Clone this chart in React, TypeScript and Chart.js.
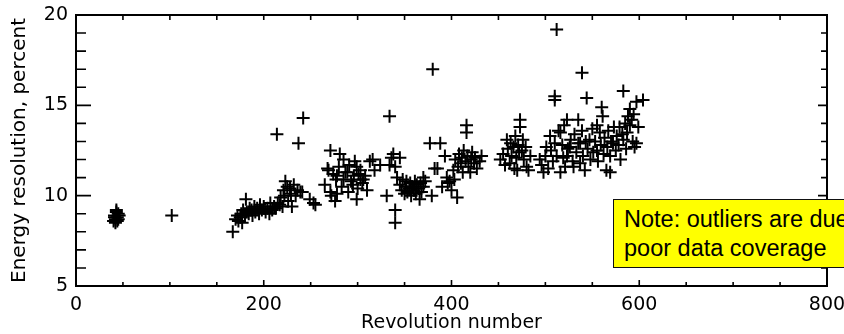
import React, { useEffect, useRef } from 'react';
import { Chart, registerables } from 'chart.js';

Chart.register(...registerables);

// Revolution number / energy resolution (percent), grouped by the visible clusters
const groupEarly: [number, number][] = [
  [40, 8.6], [41, 8.9], [42, 8.7], [43, 9.1], [44, 8.8], [45, 9.0], [42, 8.5], [46, 8.9],
  [43, 9.2], [44, 8.6], [41, 8.8], [45, 8.7], [102, 8.9],
];

const group170: [number, number][] = [
  [167, 8.0], [170, 8.7], [172, 8.9], [173, 8.6], [175, 8.8], [176, 9.0], [177, 8.5], [178, 9.2],
  [180, 8.9], [181, 9.8], [182, 9.1], [184, 9.0], [185, 9.3], [187, 9.2], [188, 8.9], [190, 9.4],
  [191, 9.1], [193, 9.3], [195, 9.0], [196, 9.5], [198, 9.2], [200, 9.4], [202, 9.1], [204, 9.3],
  [206, 9.0], [207, 9.6], [209, 9.2], [211, 9.4], [213, 9.3], [215, 9.6], [217, 9.5], [218, 9.9],
  [220, 9.4], [221, 10.3], [222, 10.0], [223, 10.8], [225, 10.5], [226, 9.7], [228, 10.4],
  [229, 10.1], [230, 9.4], [232, 10.6], [234, 10.0], [236, 10.3], [239, 10.2], [241, 10.2],
  [249, 9.8], [253, 9.6], [255, 9.5], [214, 13.4], [237, 12.9], [242, 14.3],
];

const group280: [number, number][] = [
  [265, 10.6], [268, 11.5], [269, 11.4], [271, 12.5], [271, 10.2], [272, 10.0], [274, 11.2],
  [276, 9.7], [277, 10.9], [278, 11.1], [278, 10.1], [280, 11.6], [281, 12.3], [283, 10.5],
  [285, 12.0], [285, 10.9], [287, 11.3], [289, 11.3], [290, 10.2], [291, 11.7], [293, 10.8],
  [295, 10.6], [296, 11.1], [297, 11.9], [299, 11.6], [299, 9.8], [300, 10.4], [301, 11.2],
  [303, 10.9], [303, 11.4], [305, 10.7], [306, 10.9], [308, 11.1], [310, 10.3], [313, 11.9],
  [316, 12.0], [318, 11.4], [324, 11.7],
];

const group350: [number, number][] = [
  [331, 10.0], [334, 11.7], [334, 14.4], [336, 12.1], [338, 12.3], [340, 11.6], [340, 9.2],
  [340, 8.5], [342, 11.0], [345, 12.1], [345, 10.6], [347, 10.3], [348, 10.9], [350, 10.1],
  [351, 10.5], [352, 10.8], [353, 10.2], [355, 10.4], [356, 10.7], [357, 10.0], [358, 10.5],
  [360, 10.3], [361, 10.8], [362, 10.1], [363, 10.6], [365, 10.4], [366, 9.8], [367, 10.7],
  [368, 10.2], [370, 11.0], [370, 10.5], [372, 10.8],
];

const group400: [number, number][] = [
  [377, 12.9], [379, 10.0], [380, 17.0], [382, 11.5], [385, 11.5], [388, 12.9], [390, 10.5],
  [393, 12.2], [395, 11.0], [396, 10.7], [398, 10.8], [400, 10.3], [402, 11.4], [403, 10.9],
  [404, 12.0], [406, 9.9], [407, 11.6], [408, 12.3], [410, 11.8], [411, 12.1], [412, 11.3],
  [413, 12.5], [415, 11.9], [416, 13.9], [416, 13.5], [417, 12.2], [418, 11.6], [420, 11.3],
  [421, 12.0], [422, 12.4], [424, 11.8], [425, 12.1], [427, 11.5], [430, 11.9], [432, 12.2],
];

const group470: [number, number][] = [
  [452, 12.0], [455, 12.3], [457, 11.7], [459, 13.1], [460, 12.6], [462, 11.8], [463, 12.9],
  [464, 12.2], [466, 12.7], [467, 11.5], [468, 13.3], [469, 12.1], [470, 11.4], [471, 12.8],
  [472, 12.4], [473, 14.2], [473, 13.8], [475, 12.5], [476, 13.1], [477, 12.0], [479, 12.7],
  [480, 11.6], [482, 11.4], [484, 12.2],
];

const group550: [number, number][] = [
  [494, 12.0], [496, 11.7], [498, 11.3], [500, 12.2], [501, 12.7], [503, 11.5], [505, 13.3],
  [506, 12.5], [508, 11.9], [510, 15.5], [510, 15.3], [510, 12.9], [512, 19.2], [512, 12.2],
  [514, 13.6], [516, 13.5], [516, 11.3], [518, 12.8], [519, 12.1], [520, 13.9], [521, 11.6],
  [523, 14.2], [523, 12.2], [524, 12.6], [526, 12.7], [527, 13.1], [529, 11.9], [530, 11.6],
  [531, 13.4], [533, 12.4], [535, 14.2], [535, 12.9], [537, 11.8], [537, 12.9], [539, 16.8],
  [539, 13.6], [540, 12.2], [542, 11.4], [543, 13.0], [544, 15.4], [545, 12.6], [547, 13.1],
  [548, 12.0], [550, 13.7], [551, 12.4], [553, 13.0], [555, 12.5], [555, 13.9], [556, 11.9],
  [558, 13.5], [559, 12.8], [560, 14.9], [561, 14.4], [562, 12.3], [563, 13.2], [565, 11.4],
  [566, 12.7], [567, 13.6], [569, 12.2], [569, 11.3], [570, 13.0], [572, 12.9], [573, 13.8],
  [575, 12.5], [576, 13.3], [578, 12.8], [579, 13.8], [580, 12.0], [582, 13.4], [583, 15.8],
  [583, 13.1], [585, 14.0], [586, 12.6], [587, 13.5], [588, 14.4], [590, 14.8], [590, 13.9],
  [592, 14.2], [593, 13.0], [594, 14.5], [595, 12.7], [597, 15.2], [597, 12.9], [599, 13.8],
  [604, 15.3],
];

const xTickValues = [0, 200, 400, 600, 800];
const yTickValues = [5, 10, 15, 20];
const xMinorStep = 50;
const yMinorStep = 1;

const xTitle = 'Revolution number';
const yTitle = 'Energy resolution, percent';
const noteLines = ['Note: outliers are due to', 'poor data coverage'];

const FONT = '"DejaVu Sans", sans-serif';

const framePlugin = {
  id: 'idlFrame',
  afterDraw(chart: any) {
    const { ctx, chartArea } = chart;
    const { left, right, top, bottom } = chartArea;
    const xs = chart.scales.x;
    const ys = chart.scales.y;
    ctx.save();
    ctx.strokeStyle = '#000';
    ctx.lineWidth = 2;
    ctx.strokeRect(left, top, right - left, bottom - top);
    ctx.lineWidth = 1.6;
    ctx.beginPath();
    for (let v = xs.min; v <= xs.max + 1e-9; v += xMinorStep) {
      const px = xs.getPixelForValue(v);
      const major = xTickValues.includes(v);
      const lb = major ? 6 : 4;
      const lt = 5;
      ctx.moveTo(px, bottom);
      ctx.lineTo(px, bottom - lb);
      ctx.moveTo(px, top);
      ctx.lineTo(px, top + lt);
    }
    for (let v = ys.min; v <= ys.max + 1e-9; v += yMinorStep) {
      const py = ys.getPixelForValue(v);
      const major = yTickValues.includes(v);
      const ll = major ? 15 : 10;
      const lr = major ? 9 : 6;
      ctx.moveTo(left, py);
      ctx.lineTo(left + ll, py);
      ctx.moveTo(right, py);
      ctx.lineTo(right - lr, py);
    }
    ctx.stroke();
    ctx.restore();
  },
};

export default function App() {
  const canvasRef = useRef<HTMLCanvasElement | null>(null);

  useEffect(() => {
    const canvas = canvasRef.current;
    if (!canvas) return;
    const data = [
      ...groupEarly, ...group170, ...group280, ...group350, ...group400, ...group470, ...group550,
    ].map(([x, y]) => ({ x, y }));

    const chart = new Chart(canvas, {
      type: 'scatter',
      data: {
        datasets: [
          {
            data,
            pointStyle: 'cross',
            pointRadius: 6.5,
            pointHoverRadius: 6.5,
            pointBorderWidth: 2,
            borderColor: '#000',
            backgroundColor: '#000',
          },
        ],
      },
      options: {
        responsive: false,
        animation: false,
        events: [],
        layout: { padding: { top: 15, right: 17, left: 0, bottom: 0 } },
        plugins: { legend: { display: false }, tooltip: { enabled: false } },
        scales: {
          x: {
            type: 'linear',
            min: 0,
            max: 800,
            grid: { display: false, drawTicks: false },
            border: { display: false },
            afterBuildTicks: (s: any) => {
              s.ticks = xTickValues.map((v) => ({ value: v }));
            },
            afterFit: (s: any) => {
              s.height = 48;
              s.paddingLeft = 0;
              s.paddingRight = 0;
            },
            ticks: {
              padding: 8,
              maxRotation: 0,
              autoSkip: false,
              color: '#000',
              font: { family: FONT, size: 19 },
              callback: (v: any) => String(v),
            },
            title: {
              display: true,
              text: xTitle,
              color: '#000',
              font: { family: FONT, size: 19 },
              padding: { top: 0, bottom: 0 },
            },
          },
          y: {
            type: 'linear',
            min: 5,
            max: 20,
            grid: { display: false, drawTicks: false },
            border: { display: false },
            afterBuildTicks: (s: any) => {
              s.ticks = yTickValues.map((v) => ({ value: v }));
            },
            afterFit: (s: any) => {
              s.width = 76;
              s.paddingTop = 0;
              s.paddingBottom = 0;
            },
            ticks: {
              padding: 8,
              autoSkip: false,
              color: '#000',
              font: { family: FONT, size: 19 },
              callback: (v: any) => String(v),
            },
            title: {
              display: true,
              text: yTitle,
              color: '#000',
              font: { family: FONT, size: 20 },
              padding: { top: 8, bottom: 0 },
            },
          },
        },
      },
      plugins: [framePlugin],
    });
    return () => chart.destroy();
  }, []);

  return (
    <div
      style={{
        position: 'absolute',
        left: 0,
        top: 0,
        width: 844,
        height: 334,
        overflow: 'hidden',
        background: '#fff',
      }}
    >
      <canvas ref={canvasRef} width={844} height={334} style={{ display: 'block' }} />
      <div
        style={{
          position: 'absolute',
          left: 613,
          top: 199,
          width: 280,
          height: 69,
          boxSizing: 'border-box',
          background: '#ffff00',
          border: '1px solid #111',
          padding: '5px 0 0 10px',
          fontFamily: '"Liberation Sans", Arial, sans-serif',
          fontSize: 23.5,
          lineHeight: '29px',
          color: '#000',
          whiteSpace: 'nowrap',
        }}
      >
        {noteLines[0]}
        <br />
        {noteLines[1]}
      </div>
    </div>
  );
}
